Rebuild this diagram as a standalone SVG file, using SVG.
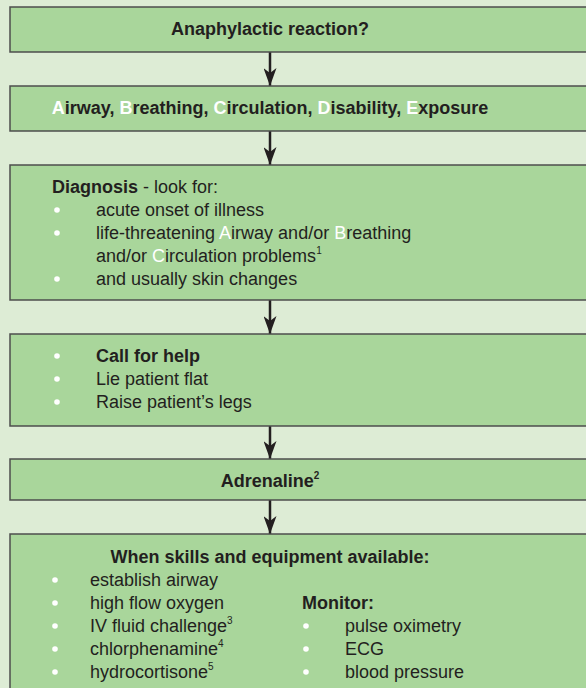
<svg xmlns="http://www.w3.org/2000/svg" width="586" height="688" viewBox="0 0 586 688">
<defs>
<style>
.box{fill:#a9d69b;stroke:#4d4d4d;stroke-width:1.5}
text{font-family:"Liberation Sans",Arial,sans-serif;font-size:18px;fill:#231f20}
.b{font-weight:bold}
.c{text-anchor:middle}
.w{fill:#ffffff}
.bul{fill:#ffffff}
.edge{stroke:#231f20;stroke-width:2.5;fill:none}
</style>
<marker id="ah" viewBox="0 0 18 13" refX="18" refY="6.5" markerWidth="18" markerHeight="13" markerUnits="userSpaceOnUse" orient="auto">
<path d="M0,0 L18,6.5 L0,13 L5,6.5 Z" fill="#231f20"/>
</marker>
</defs>
<rect x="0" y="0" width="586" height="688" fill="#ddecd5"/>
<g id="connectors">
<line class="edge" x1="270" y1="52" x2="270" y2="86" marker-end="url(#ah)"/>
<line class="edge" x1="270" y1="131" x2="270" y2="165" marker-end="url(#ah)"/>
<line class="edge" x1="270" y1="300" x2="270" y2="334" marker-end="url(#ah)"/>
<line class="edge" x1="270" y1="426" x2="270" y2="459" marker-end="url(#ah)"/>
<line class="edge" x1="270" y1="500" x2="270" y2="534" marker-end="url(#ah)"/>
</g>
<g id="n1">
<rect class="box" x="10" y="7" width="590" height="45"/>
<text class="b c" x="270" y="35">Anaphylactic reaction?</text>
</g>
<g id="n2">
<rect class="box" x="10" y="86" width="590" height="45"/>
<text class="b c" x="270" y="114"><tspan class="w">A</tspan>irway, <tspan class="w">B</tspan>reathing, <tspan class="w">C</tspan>irculation, <tspan class="w">D</tspan>isability, <tspan class="w">E</tspan>xposure</text>
</g>
<g id="n3">
<rect class="box" x="10" y="165" width="590" height="135"/>
<text x="52" y="193"><tspan class="b">Diagnosis</tspan> - look for:</text>
<circle class="bul" cx="57" cy="210" r="2.8"/>
<circle class="bul" cx="57" cy="233" r="2.8"/>
<circle class="bul" cx="57" cy="279" r="2.8"/>
<text x="96" y="216">acute onset of illness</text>
<text x="96" y="239">life-threatening <tspan class="w">A</tspan>irway and/or <tspan class="w">B</tspan>reathing</text>
<text x="96" y="262">and/or <tspan class="w">C</tspan>irculation problems<tspan font-size="10" dy="-8">1</tspan></text>
<text x="96" y="285">and usually skin changes</text>
</g>
<g id="n4">
<rect class="box" x="10" y="334" width="590" height="92"/>
<circle class="bul" cx="57" cy="356" r="2.8"/>
<circle class="bul" cx="57" cy="379" r="2.8"/>
<circle class="bul" cx="57" cy="402" r="2.8"/>
<text class="b" x="96" y="362">Call for help</text>
<text x="96" y="385">Lie patient flat</text>
<text x="96" y="408">Raise patient’s legs</text>
</g>
<g id="n5">
<rect class="box" x="10" y="459" width="590" height="41"/>
<text class="b c" x="270" y="487">Adrenaline<tspan font-size="10" dy="-8">2</tspan></text>
</g>
<g id="n6">
<rect class="box" x="10" y="534" width="590" height="170"/>
<text class="b c" x="270" y="563">When skills and equipment available:</text>
<circle class="bul" cx="55" cy="580" r="2.8"/>
<circle class="bul" cx="55" cy="603" r="2.8"/>
<circle class="bul" cx="55" cy="626" r="2.8"/>
<circle class="bul" cx="55" cy="649" r="2.8"/>
<circle class="bul" cx="55" cy="672" r="2.8"/>
<text x="90" y="586">establish airway</text>
<text x="90" y="609">high flow oxygen</text>
<text x="90" y="632">IV fluid challenge<tspan font-size="10" dy="-8">3</tspan></text>
<text x="90" y="655">chlorphenamine<tspan font-size="10" dy="-8">4</tspan></text>
<text x="90" y="678">hydrocortisone<tspan font-size="10" dy="-8">5</tspan></text>
<text class="b" x="302" y="609">Monitor:</text>
<circle class="bul" cx="306" cy="626" r="2.8"/>
<circle class="bul" cx="306" cy="649" r="2.8"/>
<circle class="bul" cx="306" cy="672" r="2.8"/>
<text x="345" y="632">pulse oximetry</text>
<text x="345" y="655">ECG</text>
<text x="345" y="678">blood pressure</text>
</g>
</svg>
